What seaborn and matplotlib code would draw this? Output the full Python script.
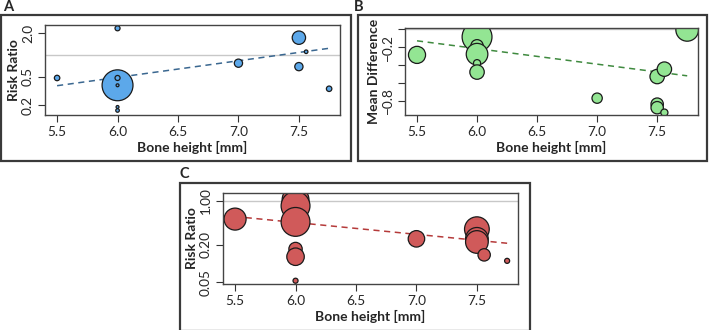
import numpy as np
import pandas as pd
import seaborn as sns
import matplotlib.pyplot as plt
from matplotlib.patches import Rectangle
from matplotlib.ticker import FixedLocator, FixedFormatter, NullLocator

# ---- data ----
# panel A: risk ratio vs bone height
a_height = [5.5, 6.0, 6.0, 6.0, 6.0, 6.0, 6.0, 7.0, 7.5, 7.56, 7.5, 7.75]
a_rr = [0.48, 2.35, 0.38, 0.48, 0.38, 0.19, 0.17, 0.77, 1.74, 1.11, 0.69, 0.34]
a_weight = [7, 6, 225, 6, 2, 2, 3, 16, 42, 3, 16, 7]
a_trend_x = [5.5, 7.75]
a_trend_y = [0.375, 1.24]

# panel B: mean difference vs bone height
b_height = [5.5, 6.0, 6.0, 6.0, 6.0, 6.0, 6.0, 7.0, 7.5, 7.56, 7.5, 7.5, 7.56, 7.75]
b_md = [-0.287, -0.006, -0.085, -0.185, -0.279, -0.38, -0.48, -0.773, -0.53,
        -0.447, -0.84, -0.88, -0.935, -0.006]
b_weight = [69, 25, 210, 36, 110, 12, 49, 25, 49, 49, 36, 36, 12, 121]
b_trend_x = [5.5, 7.75]
b_trend_y = [-0.129, -0.522]

# panel C: risk ratio vs bone height
c_height = [5.5, 6.0, 6.0, 6.0, 6.0, 6.0, 6.0, 6.0, 7.0, 7.5, 7.5, 7.5, 7.56, 7.75]
c_rr = [0.51, 1.15, 1.04, 0.83, 0.46, 0.17, 0.128, 0.053, 0.247, 0.352, 0.247,
        0.22, 0.137, 0.11]
c_weight = [114, 4, 169, 196, 196, 42, 72, 6, 64, 144, 121, 121, 36, 6]
c_trend_x = [5.5, 7.75]
c_trend_y = [0.56, 0.21]

sns.set_style("white")
plt.rcParams["font.family"] = ["Lato", "DejaVu Sans"]

fig = plt.figure(figsize=(7.09, 3.30), dpi=100)

W, H = 709, 330


def px_axes(x0, y0, x1, y1):
    return fig.add_axes([x0 / W, (H - y1) / H, (x1 - x0) / W, (y1 - y0) / H])


def frame(x0, y0, x1, y1, label, lx, ly):
    fig.patches.append(Rectangle((x0 / W, (H - y1) / H), (x1 - x0) / W, (y1 - y0) / H,
                                 transform=fig.transFigure, fill=False,
                                 edgecolor="#3a3a3a", lw=1.6))
    fig.text(lx / W, (H - ly) / H, label, fontsize=10.5, fontweight="bold",
             ha="left", va="center")


def panel(ax, x, y, w, trend_x, trend_y, fill, line, ylabel, ref):
    df = pd.DataFrame({"x": x, "y": y, "w": w})
    wmax = max(w)
    ax.axhline(ref, color="#c8c8c8", lw=1, zorder=0)
    sns.lineplot(x=trend_x, y=trend_y, ax=ax, color=line, lw=1.1,
                 linestyle=(0, (4, 3)), zorder=1)
    sns.scatterplot(data=df, x="x", y="y", size="w", sizes=(0, 2.2 * wmax),
                    size_norm=(0, wmax), color=fill, edgecolor="#1a1a1a",
                    linewidth=0.9, alpha=1, legend=False, ax=ax, zorder=2)
    ax.set_xlim(5.40, 7.84)
    ax.set_xticks([5.5, 6.0, 6.5, 7.0, 7.5])
    ax.set_xticklabels(["5.5", "6.0", "6.5", "7.0", "7.5"])
    ax.set_xlabel("Bone height [mm]", fontsize=10, fontweight="bold", labelpad=2)
    ax.set_ylabel(ylabel, fontsize=10, fontweight="bold", labelpad=1)
    ax.tick_params(axis="both", direction="out", length=5, width=0.8,
                   color="#333333", labelsize=9.8, pad=3, bottom=True, left=True)
    for s in ax.spines.values():
        s.set_color("#444444")
        s.set_linewidth(1.0)


# frames
frame(1, 15, 351, 160.5, "A", 3, 7)
frame(357.5, 15, 706.5, 160.5, "B", 354, 7)
frame(180, 183, 530, 331, "C", 180, 174)

axA = px_axes(45, 25, 340, 115)
axA.set_yscale("log")
panel(axA, a_height, a_rr, a_weight, a_trend_x, a_trend_y,
      "#5ca8ea", "#3a6790", "Risk Ratio", 1.0)
axA.set_ylim(0.147, 2.61)
axA.yaxis.set_major_locator(FixedLocator([0.2, 0.5, 2.0]))
axA.yaxis.set_major_formatter(FixedFormatter(["0.2", "0.5", "2.0"]))
axA.yaxis.set_minor_locator(NullLocator())

axB = px_axes(405, 28, 698, 115)
panel(axB, b_height, b_md, b_weight, b_trend_x, b_trend_y,
      "#93e593", "#3f8a3f", "Mean Difference", 0.0)
axB.set_ylim(-0.962, 0.015)
axB.set_yticks([0.0, -0.2, -0.4, -0.6, -0.8])
axB.set_yticklabels(["", "\u22120.2", "", "", "\u22120.8"])

axC = px_axes(223, 193, 518, 284)
axC.set_yscale("log")
panel(axC, c_height, c_rr, c_weight, c_trend_x, c_trend_y,
      "#d05a5a", "#b53a3a", "Risk Ratio", 1.0)
axC.set_ylim(0.047, 1.33)
axC.yaxis.set_major_locator(FixedLocator([0.05, 0.2, 1.0]))
axC.yaxis.set_major_formatter(FixedFormatter(["0.05", "0.20", "1.00"]))
axC.yaxis.set_minor_locator(NullLocator())

for ax in (axA, axB, axC):
    for lab in ax.get_yticklabels():
        lab.set_rotation(90)
        lab.set_va("center")

fig.savefig("out.png", dpi=100)
